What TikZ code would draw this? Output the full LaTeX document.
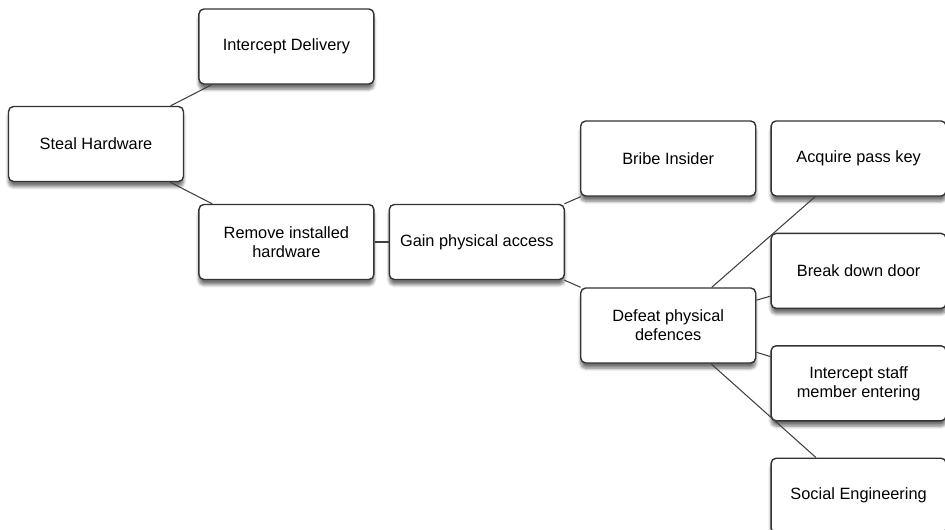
\documentclass[tikz,border=0pt]{standalone}
\usepackage{fontspec}
\newfontfamily\helv{Liberation Sans}
\usepackage{tikz}
\usetikzlibrary{positioning, shadows.blur}

\begin{document}
\begin{tikzpicture}[
			node distance=0.28cm,
			every node/.style={font=\helv\fontsize{9.3}{10.8}\selectfont},
			attack/.style={draw=black!80, line width=0.8pt, rectangle, rounded corners=0.1cm,
				fill=white, minimum width=3.5cm, minimum height=1.5cm, align=center,
				blur shadow={shadow xshift=0pt, shadow yshift=-3pt, shadow opacity=55, shadow blur steps=6}},
			link/.style={draw=black!75, line width=0.6pt}
			]
			\useasboundingbox (-1.92cm,2.88cm) rectangle (16.98cm,-7.72cm);
			
			% Raiz y primer nivel
			\node[attack] (steal) at (0,0) {Steal Hardware};
			
			\node[attack, right=of steal, yshift=1.95cm] (intdel)
			{Intercept Delivery};
			
			\node[attack, right=of steal, yshift=-1.96cm] (remove)
			{Remove installed\\hardware};
			
			\node[attack, right=of remove] (gain)
			{Gain physical access};
			
			\node[attack, right=0.3cm of gain, yshift=1.67cm] (bribe)
			{Bribe Insider};
			
			\node[attack, right=0.3cm of gain, yshift=-1.67cm] (defeat)
			{Defeat physical\\defences};
			
			% Columna derecha
			\node[attack, right=of bribe] (passkey)
			{Acquire pass key};
			
			\node[attack, below=0.72cm of passkey] (door)
			{Break down door};
			
			\node[attack, below=0.72cm of door] (staff)
			{Intercept staff\\member entering};
			
			\node[attack, below=0.72cm of staff] (social)
			{Social Engineering};
			
			% Conexiones
			\draw[link] (steal) -- (intdel);
			\draw[link] (steal) -- (remove);
			\draw[link] (remove) -- (gain);
			\draw[link] (gain) -- (bribe);
			\draw[link] (gain) -- (defeat);
			\draw[link] (defeat) -- (passkey);
			\draw[link] (defeat) -- (door);
			\draw[link] (defeat) -- (staff);
			\draw[link] (defeat) -- (social);
			
		\end{tikzpicture}
\end{document}
